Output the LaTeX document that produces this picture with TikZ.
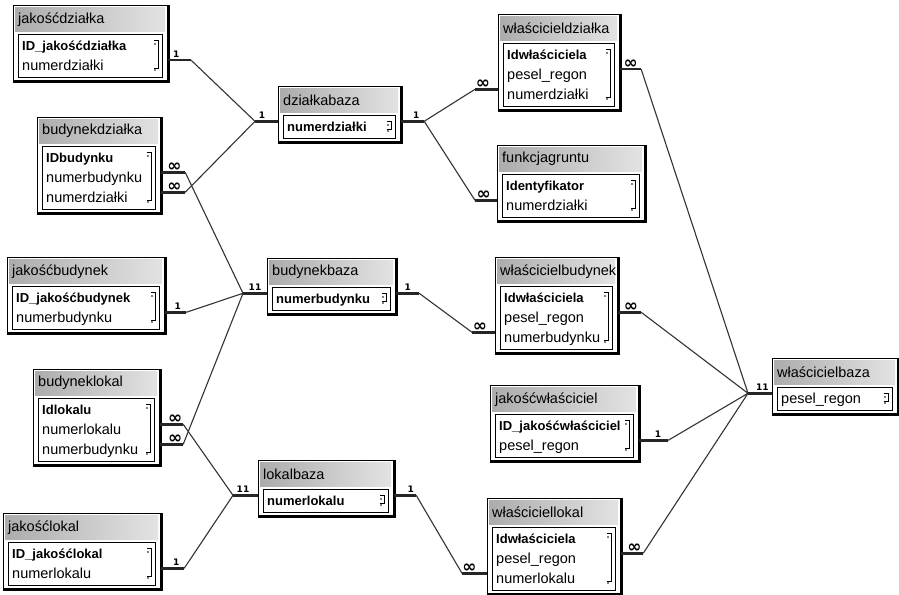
\documentclass[tikz,border=0pt]{standalone}
\usepackage{fontspec}
\setmainfont{Liberation Sans}
\newfontfamily\cardfont{DejaVu Sans}
\usepackage{tikz}

\newcommand{\key}[1]{{\fontsize{13}{16}\selectfont\bfseries #1}}

\tikzset{
  TableBox/.style = {rectangle, draw=black, line width=1.2pt, fill=white, inner sep=0pt},
  TitleBar/.style = {rectangle, inner sep=0pt, left color=gray!65, right color=gray!22, minimum height=24pt},
  TitleText/.style = {anchor=west, inner sep=0pt, font=\fontsize{14.5}{16}\selectfont},
  FieldBox/.style = {rectangle, draw=black, line width=1pt, fill=white, inner sep=0pt},
  FieldText/.style = {anchor=west, inner sep=0pt, text height=10pt, text depth=3pt, font=\fontsize{14.5}{16}\selectfont},
  ScrollMark/.style = {draw=black, line width=.8pt},
  Shadow/.style = {draw=black, line width=2.6pt},
  Stub/.style = {draw=black!85, line width=2.4pt},
  Link/.style = {draw=black!80, line width=1.1pt},
  One/.style = {above, inner sep=1.5pt, pos=.55, font=\cardfont\bfseries\fontsize{9}{9}\selectfont},
  Many/.style = {above, inner sep=0pt, pos=.55, font=\cardfont\bfseries\fontsize{17}{17}\selectfont},
}

% name, x, y, width, rows, title, fields
\newcommand{\dbtable}[7]{%
  \node[TableBox, anchor=north west, minimum width=#4pt, minimum height={(35+20*#5)*1pt}] (#1) at (#2,#3) {};
  \draw[Shadow] (#1.north east) -- (#1.south east) -- (#1.south west);
  \node[TitleBar, anchor=north west, minimum width={(#4-4)*1pt}] (#1-t) at ([shift={(2,2)}]#1.north west) {};
  \node[TitleText] at ([xshift=3pt]#1-t.west) {#6};
  \node[FieldBox, anchor=north west, minimum width={(#4-10)*1pt}, minimum height={(20*#5+3)*1pt}] (#1-f) at ([shift={(5,29)}]#1.north west) {};
  \draw[ScrollMark] ([shift={(-9,6)}]#1-f.north east) -- ++(4,0) -- ++(0,{20*#5-12}) -- ++(-4,0);
  \fill ([shift={(-8,10)}]#1-f.north east) circle (.8pt);
  \fill ([shift={(-8,-8)}]#1-f.south east) circle (.8pt);
  \foreach \f [count=\r] in {#7}
    \node[FieldText] (#1-\r) at ([shift={(4,{13+20*(\r-1)})}]#1-f.north west) {\f};
}

\begin{document}
\begin{tikzpicture}[x=1pt, y=-1pt]
  \fill[white] (0,0) rectangle (899,594);
  \useasboundingbox (0,0) rectangle (899,594);

  % left column
  \dbtable{jdz}{13}{5}{154}{2}{jakośćdziałka}{\key{ID\_jakośćdziałka}, numerdziałki}
  \dbtable{bdz}{37}{117}{123}{3}{budynekdziałka}{\key{IDbudynku}, numerbudynku, numerdziałki}
  \dbtable{jbd}{7}{257}{157}{2}{jakośćbudynek}{\key{ID\_jakośćbudynek}, numerbudynku}
  \dbtable{bl}{33}{369}{126}{3}{budyneklokal}{\key{Idlokalu}, numerlokalu, numerbudynku}
  \dbtable{jl}{3}{513}{157}{2}{jakośćlokal}{\key{ID\_jakośćlokal}, numerlokalu}
  % base tables
  \dbtable{dzb}{278}{86}{122}{1}{działkabaza}{\key{numerdziałki}}
  \dbtable{bb}{267}{258}{128}{1}{budynekbaza}{\key{numerbudynku}}
  \dbtable{lb}{258}{460}{135}{1}{lokalbaza}{\key{numerlokalu}}
  % owners
  \dbtable{wdz}{498}{14}{121}{3}{właścicieldziałka}{\key{Idwłaściciela}, pesel\_regon, numerdziałki}
  \dbtable{fg}{497}{145}{147}{2}{funkcjagruntu}{\key{Identyfikator}, numerdziałki}
  \dbtable{wb}{495}{257}{122}{3}{właścicielbudynek}{\key{Idwłaściciela}, pesel\_regon, numerbudynku}
  \dbtable{jw}{490}{385}{148}{2}{jakośćwłaściciel}{\key{ID\_jakośćwłaściciel}, pesel\_regon}
  \dbtable{wl}{487}{498}{133}{3}{właściciellokal}{\key{Idwłaściciela}, pesel\_regon, numerlokalu}
  \dbtable{wbz}{772}{358}{125}{1}{właścicielbaza}{pesel\_regon}

  % działkabaza links
  \draw[Stub] (dzb-1.north -| dzb.west) -- node[One, pos=.7]{1} ++(-23,0) coordinate (dzJ);
  \draw[Stub] (jdz-2.north -| jdz.east) -- node[One, pos=.35]{1} ++(23,0) coordinate (jdzE);
  \draw[Stub] (bdz-3.north -| bdz.east) -- node[Many]{∞} ++(24,0) coordinate (bdzE3);
  \draw[Link] (jdzE) -- (dzJ) (bdzE3) -- (dzJ);

  % budynekbaza links
  \draw[Stub] (bb-1.north -| bb.west) -- node[One, pos=.5]{11} ++(-24,0) coordinate (bbJ);
  \draw[Stub] (bdz-2.north -| bdz.east) -- node[Many]{∞} ++(24,0) coordinate (bdzE2);
  \draw[Stub] (jbd-2.north -| jbd.east) -- node[One, pos=.6]{1} ++(21,0) coordinate (jbdE);
  \draw[Stub] (bl-3.north -| bl.east) -- node[Many, pos=.65]{∞} ++(23,0) coordinate (blE3);
  \draw[Link] (bdzE2) -- (bbJ) (jbdE) -- (bbJ) (blE3) -- (bbJ);

  % lokalbaza links
  \draw[Stub] (lb-1.north -| lb.west) -- node[One, pos=.6]{11} ++(-25,0) coordinate (lbJ);
  \draw[Stub] (bl-2.north -| bl.east) -- node[Many, pos=.65]{∞} ++(23,0) coordinate (blE2);
  \draw[Stub] (jl-2.north -| jl.east) -- node[One, pos=.65]{1} ++(23,0) coordinate (jlE);
  \draw[Link] (blE2) -- (lbJ) (jlE) -- (lbJ);

  % działkabaza to owners and funkcjagruntu
  \draw[Stub] (dzb-1.north -| dzb.east) -- node[One, pos=.65]{1} ++(23,0) coordinate (dzbE);
  \draw[Stub] (wdz-3.north -| wdz.west) -- node[Many, pos=.65]{∞} ++(-23,0) coordinate (wdzW);
  \draw[Stub] (fg-2.north -| fg.west) -- node[Many, pos=.6]{∞} ++(-22,0) coordinate (fgW);
  \draw[Link] (dzbE) -- (wdzW) (dzbE) -- (fgW);

  % budynekbaza and lokalbaza to owners
  \draw[Stub] (bb-1.north -| bb.east) -- node[One, pos=.5]{1} ++(23,0) coordinate (bbE);
  \draw[Stub] (wb-3.north -| wb.west) -- node[Many, pos=.65]{∞} ++(-23,0) coordinate (wbW);
  \draw[Link] (bbE) -- (wbW);
  \draw[Stub] (lb-1.north -| lb.east) -- node[One, pos=.75]{1} ++(22,0) coordinate (lbE);
  \draw[Stub] (wl-3.north -| wl.west) -- node[Many, pos=.7]{∞} ++(-25,0) coordinate (wlW);
  \draw[Link] (lbE) -- (wlW);

  % właścicielbaza links
  \draw[Stub] (wbz-1.north -| wbz.west) -- node[One, pos=.4]{11} ++(-24,0) coordinate (wbzJ);
  \draw[Stub] (wdz-2.north -| wdz.east) -- node[Many, pos=.5]{∞} ++(21,0) coordinate (wdzE);
  \draw[Stub] (wb-2.north -| wb.east) -- node[Many, pos=.55]{∞} ++(23,0) coordinate (wbE);
  \draw[Stub] (jw-2.north -| jw.east) -- node[One, pos=.65]{1} ++(29,0) coordinate (jwE);
  \draw[Stub] (wl-2.north -| wl.east) -- node[Many, pos=.6]{∞} ++(22,0) coordinate (wlE);
  \draw[Link] (wdzE) -- (wbzJ) (wbE) -- (wbzJ) (jwE) -- (wbzJ) (wlE) -- (wbzJ);
\end{tikzpicture}
\end{document}
